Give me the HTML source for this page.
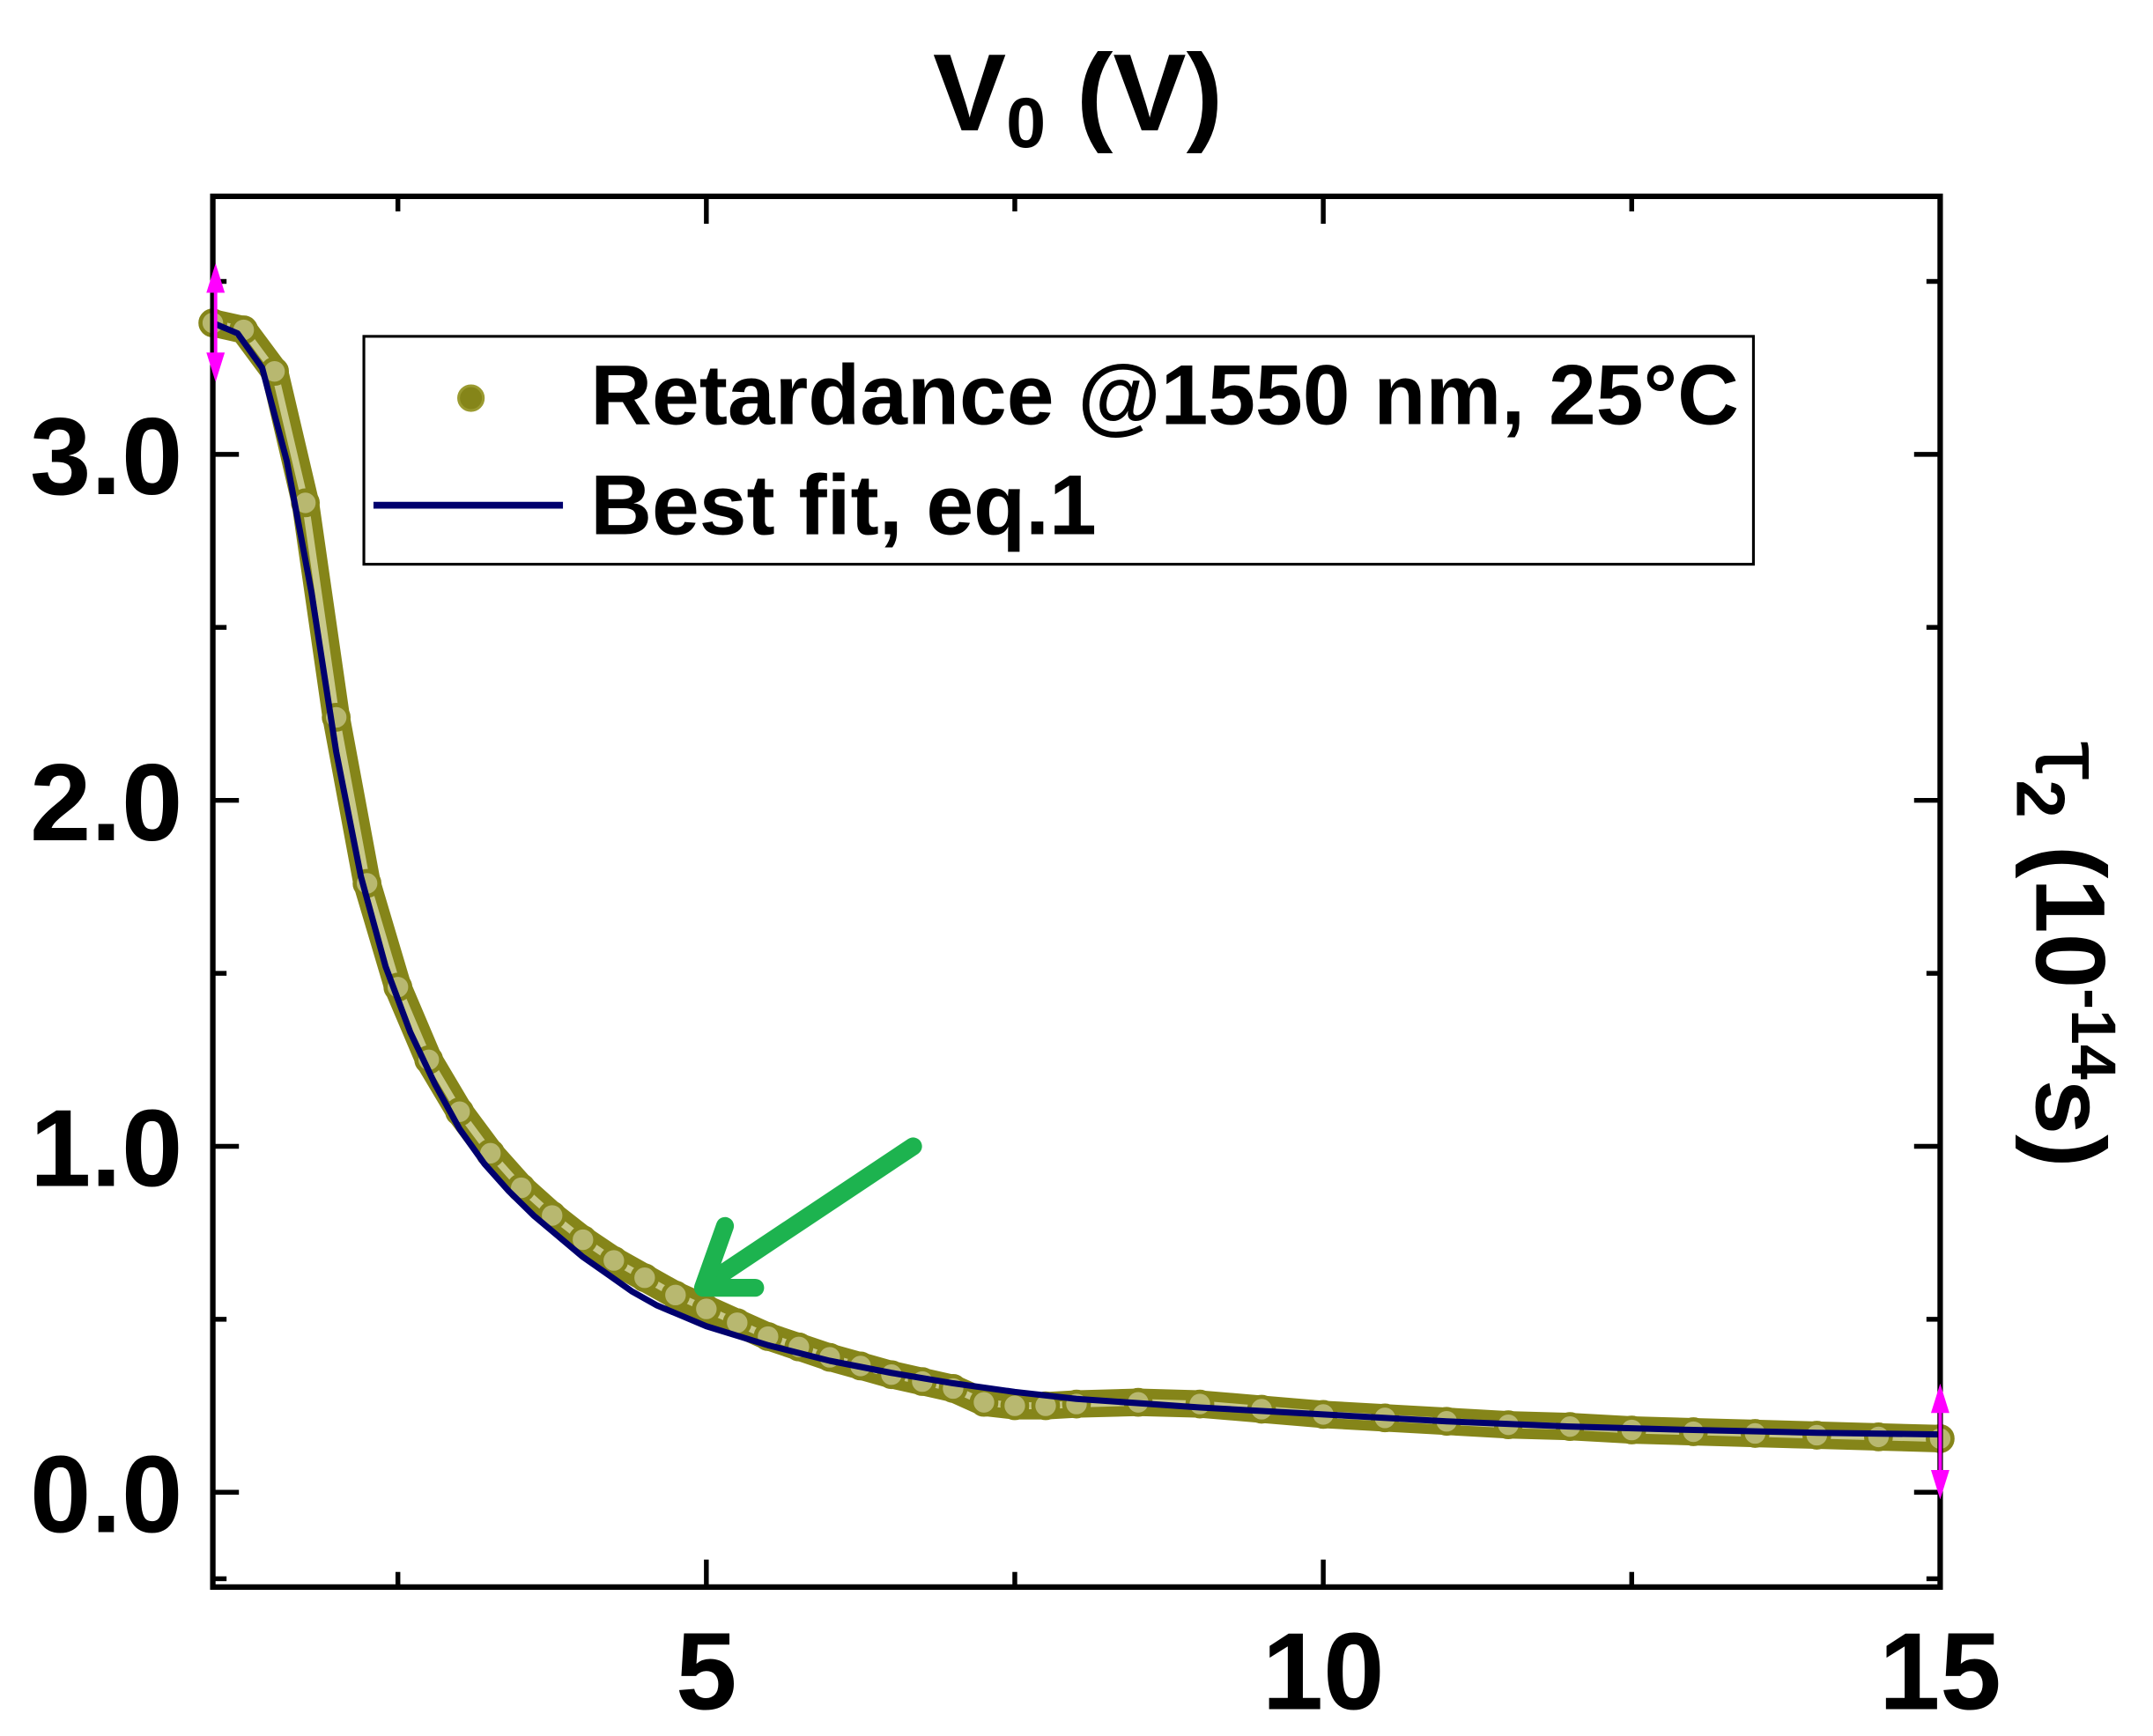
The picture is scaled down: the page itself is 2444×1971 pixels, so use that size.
<!DOCTYPE html>
<html><head><meta charset="utf-8"><style>
html,body{margin:0;padding:0;background:#fff;}
svg{display:block;}
text{font-family:"Liberation Sans",Arial,sans-serif;font-weight:bold;fill:#000;}
</style></head><body>
<svg id="chart" width="2444" height="1971" viewBox="0 0 1568 1264.5" preserveAspectRatio="none" xmlns="http://www.w3.org/2000/svg">
<rect x="0" y="0" width="1568" height="1265" fill="#fff"/>
<g id="marks"></g>
<rect x="155" y="143" width="1258" height="1013" fill="none" stroke="#000" stroke-width="4"/>
<g id="ticks" stroke="#000" stroke-width="3.5"></g>
<g id="labels"></g>
<text x="785" y="95" text-anchor="middle" font-size="80">V<tspan font-size="52" dy="12">0</tspan><tspan dy="-12"> (V)</tspan></text>
<text transform="translate(1483,695) rotate(90)" text-anchor="middle" font-size="72"><tspan font-weight="normal">τ</tspan><tspan font-size="50" dy="14">2</tspan><tspan dy="-14"> (10</tspan><tspan font-size="46" dy="-26">-14</tspan><tspan dy="26">s)</tspan></text>
<g>
<rect x="265" y="245" width="1012" height="166" fill="#fff" stroke="#000" stroke-width="2"/>
<circle cx="343" cy="290" r="9" fill="#858519" stroke="#9a9a30" stroke-width="2"/>
<text x="430" y="309" font-size="62">Retardance @1550 nm, 25°C</text>
<line x1="272" y1="368" x2="410" y2="368" stroke="#00006e" stroke-width="5"/>
<text x="430" y="389" font-size="62">Best fit, eq.1</text>
</g>
<g stroke="#1db34f" stroke-width="13" stroke-linecap="round" stroke-linejoin="round" fill="none">
<line x1="665" y1="835" x2="515" y2="935"/>
<polyline points="528,893 512,938 550,938"/>
</g>
<g fill="#ff00ff" stroke="#ff00ff" stroke-width="2.5">
<line x1="157" y1="200" x2="157" y2="270"/><polygon points="152,212 157,196 162,212"/><polygon points="152,258 157,274 162,258"/>
<line x1="1413" y1="1015" x2="1413" y2="1085"/><polygon points="1408,1028 1413,1012 1418,1028"/><polygon points="1408,1072 1413,1088 1418,1072"/>
</g>
</svg>
<script>
const xTickValues=[5,10,15];
const xTickLabels=["5","10","15"];
const xMinorTicks=[2.5,7.5,12.5];
const yTickValues=[0,1,2,3];
const yTickLabels=["0.0","1.0","2.0","3.0"];
const yMinorTicks=[-0.25,0.5,1.5,2.5,3.5];
const fitX=[1.0,1.2,1.4,1.6,1.8,2.0,2.2,2.4,2.6,2.8,3.0,3.2,3.4,3.6,3.8,4.0,4.2,4.4,4.6,4.8,5.0,5.5,6.0,6.5,7.0,7.5,8.0,9.0,10.0,11.0,12.0,13.0,14.0,15.0];
const fitY=[3.38,3.35,3.25,2.98,2.6,2.14,1.78,1.52,1.33,1.18,1.05,0.95,0.87,0.80,0.74,0.68,0.63,0.58,0.54,0.51,0.48,0.425,0.38,0.345,0.315,0.29,0.27,0.245,0.225,0.205,0.19,0.18,0.172,0.167];
const dataX=[1.0,1.25,1.5,1.75,2.0,2.25,2.5,2.75,3.0,3.25,3.5,3.75,4.0,4.25,4.5,4.75,5.0,5.25,5.5,5.75,6.0,6.25,6.5,6.75,7.0,7.25,7.5,7.75,8.0,8.5,9.0,9.5,10.0,10.5,11.0,11.5,12.0,12.5,13.0,13.5,14.0,14.5,15.0];
const dataY=[3.38,3.36,3.24,2.86,2.24,1.76,1.46,1.25,1.10,0.98,0.88,0.80,0.73,0.67,0.62,0.57,0.53,0.49,0.45,0.42,0.39,0.365,0.34,0.32,0.30,0.26,0.25,0.25,0.255,0.26,0.255,0.24,0.225,0.215,0.205,0.195,0.19,0.18,0.175,0.17,0.165,0.16,0.155];

const X0=155,X1=1413,Y0=1156,Y1=143,xmin=1,xmax=15,ymin=-0.274,ymax=3.746;
function sx(v){return X0+(v-xmin)/(xmax-xmin)*(X1-X0);}
function sy(v){return Y0-(v-ymin)/(ymax-ymin)*(Y0-Y1);}
const NS="http://www.w3.org/2000/svg";
function mk(tag,attrs,parent){const e=document.createElementNS(NS,tag);for(const k in attrs)e.setAttribute(k,attrs[k]);parent.appendChild(e);return e;}
const marks=document.getElementById('marks'),ticks=document.getElementById('ticks'),labels=document.getElementById('labels');

xTickValues.forEach((v,i)=>{const x=sx(v);
 let t=mk('line',{x1:x,y1:Y0,x2:x,y2:Y0-20},ticks);
 
 
 t=mk('line',{x1:x,y1:Y1,x2:x,y2:Y1+20},ticks);
 
 
 const l=mk('text',{x:x,y:1245,'text-anchor':'middle','font-size':'80'},labels);l.textContent=xTickLabels[i];
 
 
});
xMinorTicks.forEach(v=>{const x=sx(v);
 let t=mk('line',{x1:x,y1:Y0,x2:x,y2:Y0-11},ticks);
 
 
 t=mk('line',{x1:x,y1:Y1,x2:x,y2:Y1+11},ticks);
 
 
});
yTickValues.forEach((v,i)=>{const y=sy(v);
 let t=mk('line',{x1:X0,y1:y,x2:X0+19,y2:y},ticks);
 
 
 t=mk('line',{x1:X1,y1:y,x2:X1-19,y2:y},ticks);
 
 
 const l=mk('text',{x:133,y:y+29,'text-anchor':'end','font-size':'80'},labels);l.textContent=yTickLabels[i];
 
 
});
yMinorTicks.forEach(v=>{const y=sy(v);
 let t=mk('line',{x1:X0,y1:y,x2:X0+10,y2:y},ticks);
 
 
 t=mk('line',{x1:X1,y1:y,x2:X1-10,y2:y},ticks);
 
 
});

const band=mk('polyline',{points:dataX.map((v,i)=>sx(v)+','+sy(dataY[i])).join(' '),fill:'none',stroke:'#858519','stroke-width':'20','stroke-linejoin':'round','stroke-linecap':'round'},marks);


const inner=mk('polyline',{points:dataX.map((v,i)=>sx(v)+','+sy(dataY[i])).join(' '),fill:'none',stroke:'#c9c98a','stroke-width':'5','stroke-linejoin':'round'},marks);


dataX.forEach((v,i)=>{
 const c=mk('circle',{cx:sx(v),cy:sy(dataY[i]),r:9,fill:'#b8b870',stroke:'#858519','stroke-width':'3'},marks);
 
 
});
const fit=mk('polyline',{points:fitX.map((v,i)=>sx(v)+','+sy(fitY[i])).join(' '),fill:'none',stroke:'#00006e','stroke-width':'4.5','stroke-linejoin':'round'},marks);


</script>
</body></html>
